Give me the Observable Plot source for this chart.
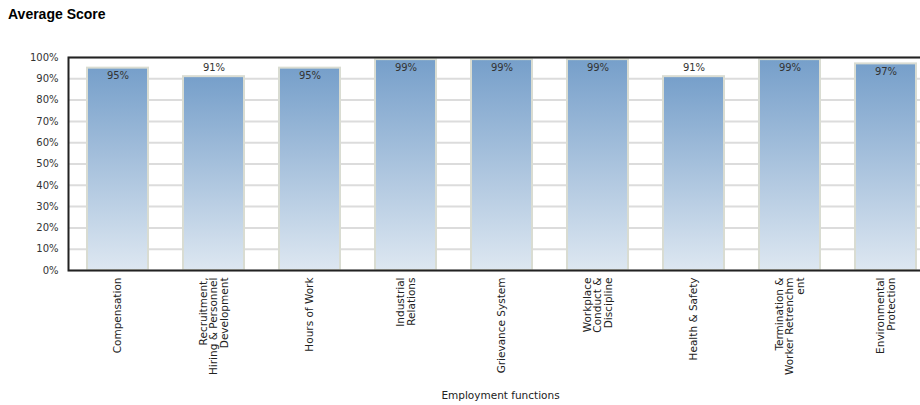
<!DOCTYPE html>
<html>
<head>
<meta charset="utf-8">
<script src="https://cdn.jsdelivr.net/npm/d3@7"></script>
<script src="https://cdn.jsdelivr.net/npm/@observablehq/plot@0.6"></script>
<style>
  html, body { margin: 0; padding: 0; background: #fff; overflow: hidden; width: 920px; height: 405px; }
  #title { font-family: "Liberation Sans", Arial, sans-serif; font-weight: bold; font-size: 14px; color: #000;
           position: absolute; left: 8px; top: 5px; line-height: 18px; }
  #chart { position: absolute; left: 0; top: 30px; width: 940px; }
  #chart svg { max-width: none !important; }
</style>
</head>
<body>
<div id="title">Average Score</div>
<div id="chart"></div>
<script>
const categories = [
  "Compensation",
  "Recruitment, Hiring & Personnel Development",
  "Hours of Work",
  "Industrial Relations",
  "Grievance System",
  "Workplace Conduct & Discipline",
  "Health & Safety",
  "Termination & Worker Retrenchment",
  "Environmental Protection"
];
const tickLabels = [
  "Compensation",
  "Recruitment,\nHiring & Personnel\nDevelopment",
  "Hours of Work",
  "Industrial\nRelations",
  "Grievance System",
  "Workplace\nConduct &\nDiscipline",
  "Health & Safety",
  "Termination &\nWorker Retrenchm\nent",
  "Environmental\nProtection"
];
const scores = [0.95, 0.91, 0.95, 0.99, 0.99, 0.99, 0.91, 0.99, 0.97];
const yTicks = [0, 0.1, 0.2, 0.3, 0.4, 0.5, 0.6, 0.7, 0.8, 0.9, 1.0];

const data = categories.map((c, i) => ({category: c, label: tickLabels[i], value: scores[i]}));
const inside = data.filter(d => d.value >= 0.95);
const above = data.filter(d => d.value < 0.95);

const defs = () => {
  const svg = d3.create("svg:defs");
  const g = svg.append("linearGradient").attr("id", "barGrad")
    .attr("x1", 0).attr("y1", 0).attr("x2", 0).attr("y2", 1);
  g.append("stop").attr("offset", "0%").attr("stop-color", "#769fca");
  g.append("stop").attr("offset", "100%").attr("stop-color", "#dde7f1");
  return svg.node();
};

const fmt = d3.format(".0%");

const chart = Plot.plot({
  width: 940,
  height: 375,
  marginLeft: 68,
  marginRight: 8,
  marginTop: 27,
  marginBottom: 135,
  style: {fontFamily: "'DejaVu Sans', Verdana, sans-serif", fontSize: "10px", color: "#333", background: "#fff", maxWidth: "none"},
  x: {domain: categories, range: [70, 934], paddingInner: 0.36, paddingOuter: 0.18, axis: null},
  y: {domain: [0, 1], axis: null},
  marks: [
    defs,
    Plot.gridY(yTicks, {stroke: "#dcdcdc", strokeOpacity: 1, strokeWidth: 2}),
    Plot.barY(data, {x: "category", y: "value", fill: "url(#barGrad)", stroke: "#d9dcd2", strokeWidth: 2}),
    Plot.frame({stroke: "#222", strokeWidth: 2}),
    Plot.axisY(yTicks, {tickFormat: d => fmt(d), tickSize: 0, tickPadding: 10, fontSize: 10, fill: "#333", label: null}),
    Plot.text(inside, {x: "category", y: "value", text: d => fmt(d.value), dy: 8, fontSize: 10, fill: "#333"}),
    Plot.text(above, {x: "category", y: "value", text: d => fmt(d.value), dy: -9, fontSize: 10, fill: "#333"}),
    Plot.text(data, {x: "category", text: "label", frameAnchor: "bottom", dy: 7, rotate: -90,
                     textAnchor: "end", lineAnchor: "middle", lineHeight: 1.0, fontSize: 10.5, fill: "#222"}),
    Plot.text(["Employment functions"], {frameAnchor: "bottom", dy: 128, fontSize: 10.5, fill: "#222"})
  ]
});
document.getElementById("chart").appendChild(chart);
</script>
</body>
</html>
